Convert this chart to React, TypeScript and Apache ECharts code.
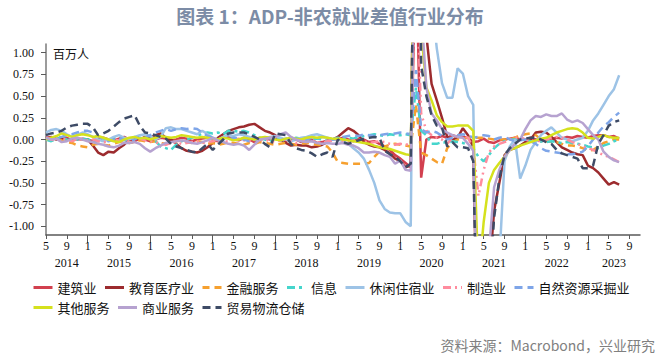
import React, { useEffect, useRef } from "react";
import * as echarts from "echarts";

// Months May 2014 .. Nov 2023 (axis range); data runs May 2014 .. Jul 2023
const startYear = 2014;
const startMonth = 5;
const monthCount = 115;
const categories: string[] = [];
for (let k = 0; k < monthCount; k++) {
  const m = startMonth - 1 + k;
  const y = startYear + Math.floor(m / 12);
  const mm = (m % 12) + 1;
  categories.push(`${y}-${mm < 10 ? "0" + mm : mm}`);
}

const yTicks = [-1, -0.75, -0.5, -0.25, 0, 0.25, 0.5, 0.75, 1];
const monthLabelMonths = ["01", "05", "09"];
const yearLabelMonth: Record<string, string> = { "2014": "09", "2023": "06" };

const seriesNames = ["建筑业", "教育医疗业", "金融服务", "信息", "休闲住宿业", "制造业", "自然资源采掘业", "其他服务", "商业服务", "贸易物流仓储"];
const seriesColors = ["#D2404F", "#9C2B2E", "#F6A02F", "#45D5CC", "#9DC3E6", "#FF8C9E", "#7EA5E8", "#D5E11D", "#B6A2D0", "#3E4B66"];
const seriesDash: any[] = ["solid", "solid", [7, 5], [8, 4, 3, 4], "solid", [8, 4, 2, 4, 2, 4], [8, 5], "solid", "solid", [8, 5]];

const construction = [
  0.02, 0.03, 0.01, 0.0, 0.02, -0.01, 0.0, 0.01,
  0.0, -0.02, 0.01, 0.02, 0.0, -0.01, 0.01, 0.03, 0.0, -0.02, 0.01, 0.0,
  -0.02, 0.0, 0.02, 0.01, -0.01, 0.0, 0.02, 0.01, -0.02, 0.0, 0.01, 0.02,
  0.0, -0.02, 0.01, 0.03, 0.0, -0.01, 0.02, 0.0, -0.03, 0.01, 0.02, 0.0,
  0.02, 0.0, -0.02, 0.01, 0.0, -0.03, -0.02, 0.0, -0.04, -0.03, -0.01, 0.0,
  0.0, 0.02, 0.0, -0.02, 0.01, 0.0, -0.03, -0.02, -0.05, -0.08, -0.12, -0.18,
  -0.22, -0.27, -0.32, 2.2, -0.44, 0.0, 0.03, 0.02, 0.04, 0.02, 0.05, 0.03,
  0.03, 0.02, -0.03, -0.02, 0.01, -0.03, -0.04, -0.01, 0.0, 0.01, 0.02, 0.0,
  0.0, 0.02, 0.0, -0.02, 0.0, 0.01, 0.02, 0.01, 0.03, 0.02, 0.04, 0.03,
  0.02, 0.04, 0.05, 0.05, 0.03, 0.04, 0.01,
];
const education = [
  0.01, 0.02, 0.0, 0.01, 0.0, -0.01, 0.01, 0.0,
  0.0, -0.07, -0.15, -0.18, -0.14, -0.15, -0.1, -0.06, 0.0, 0.02, 0.0, 0.03,
  0.02, 0.05, 0.07, 0.02, 0.0, -0.05, -0.1, -0.13, -0.14, -0.15, -0.13, -0.09,
  -0.04, 0.02, 0.06, 0.1, 0.12, 0.14, 0.15, 0.17, 0.18, 0.14, 0.1, 0.08,
  0.05, 0.0, -0.04, -0.07, -0.06, -0.07, -0.07, -0.09, -0.08, -0.06, -0.03, 0.0,
  0.03, 0.08, 0.13, 0.1, 0.05, -0.03, -0.06, -0.08, -0.09, -0.12, -0.16, -0.22,
  -0.25, -0.32, -0.3, 4.5, 1.8, 1.2, 0.64, 0.45, 0.25, 0.03, 0.0, 0.02,
  0.13, 0.05, -0.09, -3.0, -2.5, -1.6, -0.82, -0.5, -0.18, -0.12, -0.1, -0.07,
  -0.03, 0.0, 0.08, 0.09, 0.08, 0.03, -0.03, -0.09, -0.12, -0.15, -0.17, -0.18,
  -0.3, -0.33, -0.38, -0.45, -0.52, -0.49, -0.52,
];
const finance = [
  0.0, -0.01, 0.01, -0.01, -0.03, -0.04, -0.07, -0.08,
  -0.09, -0.06, -0.05, -0.06, -0.07, -0.05, -0.03, -0.02, -0.04, -0.03, -0.01, -0.02,
  -0.03, -0.02, -0.04, -0.05, -0.03, -0.02, -0.01, -0.03, -0.04, -0.02, -0.03, -0.05,
  -0.04, -0.06, -0.05, -0.03, -0.04, -0.05, -0.06, -0.04, -0.05, -0.03, -0.04, -0.05,
  -0.06, -0.05, -0.04, -0.05, -0.06, -0.05, -0.04, -0.05, -0.06, -0.07, -0.08, -0.15,
  -0.26, -0.27, -0.28, -0.28, -0.28, -0.28, -0.27, -0.2, -0.14, -0.08, -0.06, -0.05,
  -0.06, -0.07, -0.08, 0.4, -0.15, -0.18, -0.22, -0.26, -0.28, -0.1, -0.03, 0.0,
  0.01, 0.02, 0.02, 0.02, 0.02, 0.01, 0.0, 0.0, 0.0, 0.0, 0.02, 0.05,
  0.06, 0.07, 0.05, 0.0, -0.02, -0.03, -0.03, -0.05, -0.07, -0.07, -0.08, -0.1,
  -0.13, -0.12, -0.08, -0.04, -0.02, 0.0, 0.0,
];
const information = [
  0.0, -0.02, 0.01, 0.02, 0.0, -0.01, 0.0, 0.01,
  0.0, -0.02, -0.03, -0.01, 0.0, 0.02, 0.01, -0.01, 0.0, 0.03, 0.02, 0.0,
  0.01, -0.02, -0.08, -0.1, -0.12, -0.06, -0.02, 0.0, 0.02, 0.04, 0.07, 0.08,
  0.07, 0.08, 0.06, 0.1, 0.1, 0.09, 0.1, 0.08, 0.05, 0.02, 0.0, -0.02,
  0.0, 0.01, -0.02, 0.0, 0.02, 0.01, -0.01, 0.0, 0.01, 0.0, -0.02, 0.0,
  0.02, 0.0, 0.02, 0.01, 0.03, 0.04, 0.05, 0.06, 0.05, 0.04, 0.06, 0.05,
  0.05, 0.06, 0.05, 0.6, 0.1, 0.05, -0.05, -0.05, -0.03, -0.04, -0.02, -0.03,
  -0.04, -0.06, -0.1, -0.2, -0.25, -0.18, -0.1, -0.05, -0.02, 0.0, 0.0, 0.01,
  0.0, -0.02, -0.03, -0.02, -0.03, -0.02, -0.03, -0.04, -0.03, -0.04, -0.05, -0.06,
  -0.08, -0.09, -0.1, -0.07, -0.05, -0.02, 0.0,
];
const leisure = [
  0.08, 0.11, 0.12, 0.1, 0.06, 0.03, 0.05, 0.08,
  0.06, 0.03, 0.0, -0.02, 0.0, 0.03, 0.05, 0.02, 0.0, 0.03, 0.05, 0.06,
  0.04, 0.0, 0.03, 0.13, 0.14, 0.12, 0.12, 0.1, 0.08, 0.06, 0.1, 0.06,
  0.02, 0.0, 0.03, 0.05, 0.04, 0.06, 0.05, 0.03, 0.0, 0.02, 0.01, 0.03,
  0.04, 0.02, 0.0, -0.02, 0.0, 0.02, 0.03, 0.05, 0.06, 0.04, 0.02, 0.0,
  0.0, -0.02, -0.05, -0.1, -0.15, -0.22, -0.35, -0.5, -0.7, -0.8, -0.84, -0.85,
  -0.85, -0.95, -1.0, 5.0, 4.0, 2.6, 1.6, 1.05, 0.65, 0.48, 0.48, 0.82,
  0.76, 0.5, 0.4, -3.0, -3.0, -2.5, -2.0, -1.4, -0.25, -0.08, 0.0, -0.45,
  -0.3, -0.12, -0.03, 0.05, 0.1, 0.14, 0.08, 0.02, 0.0, -0.02, 0.0, 0.02,
  0.1, 0.22, 0.3, 0.4, 0.5, 0.58, 0.74,
];
const manufacturing = [
  0.02, 0.0, -0.01, 0.01, 0.0, -0.02, 0.01, 0.0,
  -0.01, 0.0, -0.02, -0.03, -0.02, 0.0, -0.01, -0.03, -0.02, 0.0, 0.01, -0.01,
  -0.02, -0.03, -0.05, -0.06, -0.04, -0.03, -0.05, -0.04, -0.03, -0.02, -0.04, -0.03,
  -0.02, 0.0, -0.03, -0.02, 0.0, 0.01, -0.01, -0.02, 0.0, -0.01, 0.0, -0.02,
  -0.03, -0.01, 0.0, -0.02, -0.04, -0.02, 0.0, -0.01, -0.03, -0.04, -0.02, -0.01,
  0.0, -0.02, -0.03, -0.01, 0.0, -0.02, -0.04, -0.03, -0.02, -0.03, -0.05, -0.06,
  -0.05, -0.06, -0.05, 2.0, 0.3, 0.1, 0.05, 0.02, 0.0, -0.05, 0.02, 0.05,
  0.05, 0.02, -0.1, -0.65, -0.35, -0.15, -0.08, -0.05, -0.03, 0.0, 0.02, 0.03,
  0.0, -0.02, -0.03, -0.01, 0.0, 0.02, 0.03, 0.02, 0.0, -0.03, -0.05, -0.08,
  -0.1, -0.12, -0.15, -0.18, -0.2, -0.23, -0.26,
];
const mining = [
  0.0, 0.01, 0.02, 0.03, 0.05, 0.06, 0.08, 0.1,
  0.1, 0.08, 0.04, 0.0, -0.02, 0.0, 0.02, 0.0, -0.02, 0.0, 0.03, 0.02,
  0.05, 0.08, 0.1, 0.12, 0.1, 0.12, 0.13, 0.12, 0.13, 0.12, 0.08, 0.04,
  0.02, 0.0, -0.02, 0.0, 0.02, 0.01, 0.0, -0.02, -0.01, 0.0, 0.02, 0.01,
  0.0, -0.01, 0.01, 0.02, 0.0, -0.02, 0.0, 0.02, 0.01, 0.03, 0.02, 0.0,
  0.02, 0.03, 0.04, 0.05, 0.04, 0.06, 0.05, 0.04, 0.05, 0.06, 0.07, 0.07,
  0.08, 0.07, 0.06, 0.8, 0.12, 0.08, 0.1, 0.08, 0.04, 0.0, 0.02, 0.05,
  0.06, 0.05, 0.02, 0.03, 0.05, 0.04, 0.0, 0.02, 0.03, 0.0, -0.02, -0.01,
  0.0, -0.02, -0.05, -0.1, -0.13, -0.14, -0.15, -0.16, -0.17, -0.17, -0.16, -0.14,
  -0.08, 0.0, 0.08, 0.15, 0.2, 0.26, 0.31,
];
const otherServices = [
  0.0, 0.02, 0.04, 0.07, 0.05, 0.03, 0.05, 0.06,
  0.05, 0.03, 0.04, 0.02, 0.0, -0.02, -0.03, 0.0, 0.02, 0.03, 0.01, 0.02,
  0.0, 0.02, 0.04, 0.03, 0.02, 0.03, 0.05, 0.04, 0.03, 0.02, 0.03, 0.02,
  0.01, 0.0, 0.02, 0.01, -0.01, 0.0, 0.02, 0.01, 0.0, 0.02, 0.03, 0.02,
  0.0, -0.01, 0.01, 0.02, 0.01, 0.0, 0.02, 0.03, 0.02, 0.03, 0.02, 0.01,
  0.01, 0.0, -0.01, -0.02, -0.03, -0.04, -0.05, -0.07, -0.09, -0.1, -0.11, -0.13,
  -0.15, -0.17, -0.18, 4.0, 1.25, 0.6, 0.45, 0.28, 0.2, 0.15, 0.15, 0.16,
  0.16, 0.16, 0.1, -1.6, -0.95, -0.5, -0.35, -0.27, -0.2, -0.12, -0.1, -0.07,
  -0.05, -0.03, -0.01, 0.01, 0.02, 0.05, 0.08, 0.1, 0.12, 0.13, 0.12, 0.08,
  0.02, 0.01, 0.03, 0.05, 0.03, 0.02, 0.02,
];
const businessServices = [
  0.02, 0.0, 0.01, -0.03, -0.02, 0.01, 0.02, 0.0,
  -0.02, -0.03, -0.05, -0.06, -0.08, -0.09, -0.07, -0.04, -0.04, -0.03, -0.05, -0.1,
  -0.14, -0.1, -0.07, -0.04, -0.03, -0.02, -0.01, -0.02, -0.04, -0.05, -0.03, -0.01,
  0.02, -0.01, -0.03, -0.05, -0.06, -0.05, -0.07, -0.12, -0.06, 0.0, 0.01, 0.02,
  0.03, 0.06, 0.08, 0.03, 0.0, -0.02, -0.03, -0.02, -0.04, -0.05, -0.04, -0.05,
  -0.05, -0.04, -0.06, -0.07, -0.1, -0.15, -0.15, -0.14, -0.15, -0.18, -0.2, -0.28,
  -0.24, -0.35, -0.36, 3.0, 1.5, 0.6, 0.3, 0.22, 0.12, 0.08, 0.05, 0.03,
  0.02, -0.05, -0.13, -2.5, -2.0, -1.3, -0.55, -0.35, -0.2, -0.12, -0.05, 0.0,
  0.12, 0.22, 0.27, 0.26, 0.29, 0.27, 0.27, 0.3, 0.23, 0.2, 0.22, 0.19,
  0.12, 0.05, 0.0, -0.14, -0.2, -0.24, -0.26,
];
const tradeLogistics = [
  0.05, 0.07, 0.08, 0.1, 0.14, 0.16, 0.17, 0.18,
  0.18, 0.14, 0.05, 0.07, 0.1, 0.15, 0.2, 0.24, 0.26, 0.28, 0.16, 0.08,
  0.07, 0.05, 0.03, 0.01, -0.05, -0.08, -0.1, -0.12, -0.14, -0.15, -0.1, -0.05,
  -0.12, -0.06, 0.0, 0.07, 0.08, 0.08, 0.08, 0.06, 0.03, 0.0, -0.05, -0.09,
  0.07, 0.06, 0.05, -0.05, -0.1, -0.12, -0.13, -0.16, -0.2, -0.17, -0.15, -0.2,
  0.0, -0.03, -0.05, -0.03, -0.01, 0.01, 0.02, 0.03, 0.02, -0.13, -0.17, -0.2,
  -0.25, -0.32, -0.28, 4.5, 0.85, 0.5, 0.28, 0.16, 0.14, -0.08, -0.03, -0.09,
  -0.09, -0.1, -0.25, -3.0, -2.5, -1.8, -0.9, -0.45, -0.18, -0.1, -0.05, 0.0,
  0.01, 0.02, 0.02, 0.0, -0.03, -0.05, -0.12, -0.16, -0.18, -0.2, -0.22, -0.33,
  -0.33, -0.3, -0.05, 0.05, 0.16, 0.2, 0.22,
];

const seriesData = [construction, education, finance, information, leisure, manufacturing, mining, otherServices, businessServices, tradeLogistics];

const serif = "'Liberation Serif', 'Times New Roman', serif";
const cjk = "'Noto Sans CJK SC', sans-serif";

export default function App() {
  const ref = useRef<HTMLDivElement>(null);
  useEffect(() => {
    if (!ref.current) return;
    const chart = echarts.init(ref.current, undefined, { renderer: "svg" });
    const axisColor = "#5a5a5a";
    chart.setOption({
      animation: false,
      backgroundColor: "#ffffff",
      grid: { left: 46, right: 21, top: 44, bottom: 129 },
      legend: {
        left: 27,
        top: 276,
        width: 634,
        itemWidth: 19,
        itemHeight: 15,
        itemGap: 7,
        itemStyle: { opacity: 0 },
        lineStyle: { width: 3 },
        textStyle: { fontSize: 13, color: "#111", fontFamily: cjk },
        data: seriesNames,
      },
      xAxis: [
        {
          type: "category",
          data: categories,
          boundaryGap: false,
          position: "bottom",
          axisLine: { onZero: false, lineStyle: { color: axisColor, width: 1.5 } },
          axisTick: {
            interval: (_i: number, v: string) => v.slice(5) === "05" || v.slice(5) === "09",
            length: 4,
            lineStyle: { color: axisColor, width: 1 },
          },
          axisLabel: {
            interval: (_i: number, v: string) => monthLabelMonths.includes(v.slice(5)),
            formatter: (v: string) => String(parseInt(v.slice(5), 10)),
            margin: 5,
            fontSize: 12,
            color: "#111",
            fontFamily: serif,
          },
          splitLine: { show: false },
        },
        {
          type: "category",
          data: categories,
          boundaryGap: false,
          position: "bottom",
          axisLine: { show: false, onZero: false },
          axisTick: {
            interval: (_i: number, v: string) => v.slice(5) === "01",
            length: 8,
            lineStyle: { color: axisColor, width: 1 },
          },
          axisLabel: {
            interval: (_i: number, v: string) => {
              const y = v.slice(0, 4);
              return v.slice(5) === (yearLabelMonth[y] || "07");
            },
            formatter: (v: string) => v.slice(0, 4),
            margin: 22,
            fontSize: 12,
            color: "#111",
            fontFamily: serif,
          },
          splitLine: { show: false },
        },
      ],
      yAxis: {
        type: "value",
        min: -1.1,
        max: 1.1,
        axisLine: { show: true, lineStyle: { color: "#7a7a7a", width: 1.5 } },
        axisTick: { show: true, customValues: yTicks, length: 5, lineStyle: { color: axisColor } },
        axisLabel: {
          customValues: yTicks,
          formatter: (v: number) => v.toFixed(2),
          margin: 12,
          fontSize: 12,
          color: "#111",
          fontFamily: serif,
        },
        splitLine: { show: false },
      },
      series: seriesNames.map((name, k) => ({
        type: "line",
        name,
        data: seriesData[k],
        xAxisIndex: 0,
        symbol: "none",
        clip: true,
        emphasis: { disabled: true },
        itemStyle: { color: seriesColors[k] },
        lineStyle: { color: seriesColors[k], width: 2.5, type: seriesDash[k] },
      })),
      graphic: [
        {
          type: "text",
          x: 330,
          y: 15,
          style: {
            text: "图表 1：ADP-非农就业差值行业分布",
            fill: "#7C8CA6",
            font: `bold 19px ${cjk}`,
            textAlign: "center",
            textVerticalAlign: "middle",
          },
        },
        {
          type: "text",
          x: 53,
          y: 53,
          style: { text: "百万人", fill: "#111", font: `12px ${cjk}`, textAlign: "left", textVerticalAlign: "middle" },
        },
        {
          type: "text",
          x: 655,
          y: 345,
          style: {
            text: "资料来源：Macrobond，兴业研究",
            fill: "#808080",
            font: `14px ${cjk}`,
            textAlign: "right",
            textVerticalAlign: "middle",
          },
        },
      ],
    });
    return () => chart.dispose();
  }, []);
  return <div ref={ref} style={{ position: "fixed", left: 0, top: 0, width: 661, height: 364 }} />;
}
